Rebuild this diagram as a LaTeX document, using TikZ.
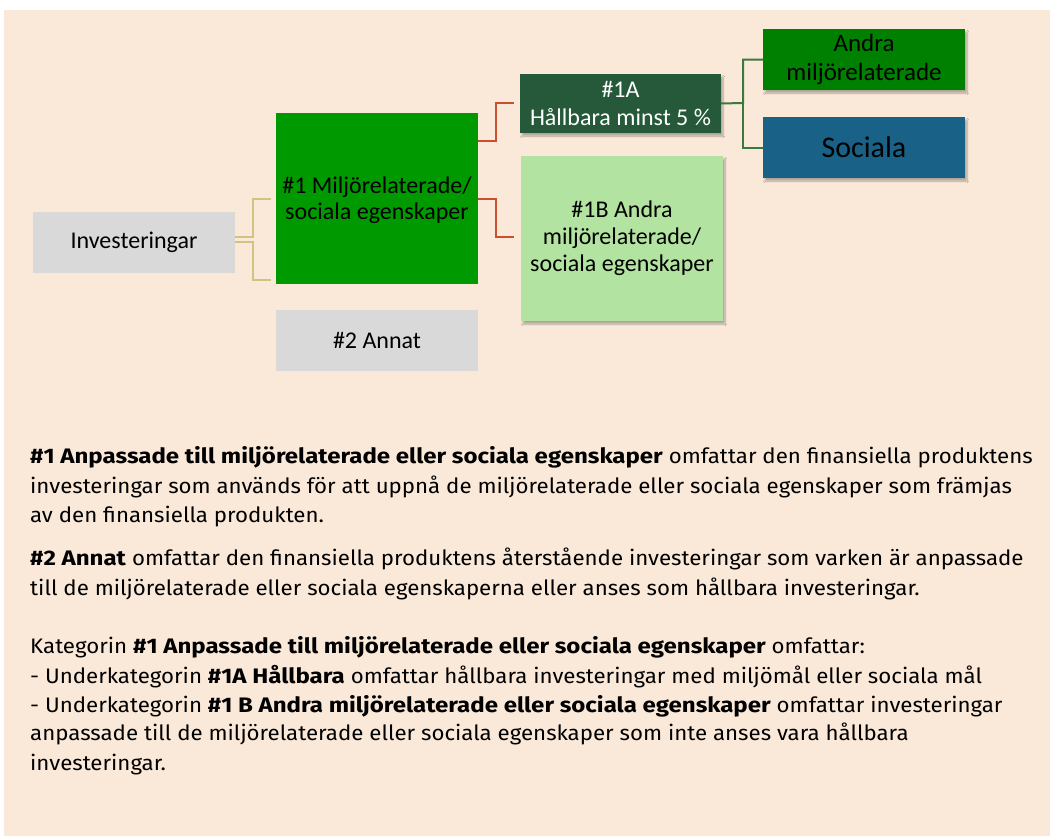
\documentclass[tikz,border=0pt]{standalone}
\usepackage{fontspec}
\setmainfont{Carlito}
\newfontfamily\bodyfont[FakeStretch=1.06, BoldFeatures={FakeStretch=1.145}]{Fira Sans}
\usetikzlibrary{shadows.blur}
\definecolor{bg}{RGB}{250,233,217}
\definecolor{boxgray}{RGB}{217,217,217}
\definecolor{midgreen}{RGB}{0,153,0}
\definecolor{darkgreen}{RGB}{37,89,58}
\definecolor{lightgreen}{RGB}{179,227,160}
\definecolor{puregreen}{RGB}{0,128,0}
\definecolor{socblue}{RGB}{25,97,135}
\definecolor{tanline}{RGB}{210,196,128}
\definecolor{redline}{RGB}{200,80,45}
\definecolor{greenline}{RGB}{60,122,60}
\tikzset{
  box/.style={inner sep=0pt, outer sep=0pt, minimum width=202pt, align=center,
    font=\fontsize{24}{24}\selectfont},
  shbox/.style={box, blur shadow={shadow xshift=2pt, shadow yshift=-3pt, shadow blur steps=8, shadow opacity=30}},
  conn/.style={line width=2pt},
  bodyline/.style={anchor=base west, inner sep=0pt, font=\bodyfont\fontsize{21}{24}\selectfont}
}
\begin{document}
\begin{tikzpicture}[x=1pt,y=-1pt]
\useasboundingbox (0,0) rectangle (1050,836);
\fill[white] (0,0) rectangle (1050,836);
\fill[bg] (4,10) rectangle (1050,836);

% boxes
\node[box, fill=boxgray, minimum height=61pt] (inv) at (134,242.5) {Investeringar};
\node[box, fill=midgreen, minimum height=171pt] (n1) at (377,198.5) {};
\node[box, font=\fontsize{24}{26}\selectfont] (n1txt) at (377,200) {\#1 Miljörelaterade/\\sociala egenskaper};
\node[box, fill=boxgray, minimum height=61pt] (n2) at (377,340.5) {\#2 Annat};
\node[shbox, fill=darkgreen, minimum width=201pt, minimum height=59pt, text=white, font=\fontsize{24}{28}\selectfont] (n1a) at (620.5,103.5) {\#1A\\Hållbara minst 5 \%};
\node[shbox, fill=lightgreen, minimum height=165pt, font=\fontsize{24}{27}\selectfont] (n1b) at (622,238.5) {\#1B Andra\\miljörelaterade/\\sociala egenskaper};
\node[shbox, fill=puregreen, minimum height=61pt, font=\fontsize{25}{29}\selectfont] (andra) at (864,59.5) {Andra\\miljörelaterade};
\node[shbox, fill=socblue, minimum height=61pt, font=\fontsize{30}{30}\selectfont] (soc) at (864,147.5) {Sociala};

% connectors
\draw[conn, tanline] (inv.east |- 0,237) -- (253,237) |- (271,199);
\draw[conn, tanline] (inv.east |- 0,242) -- (253,242) |- (271,280);
\draw[conn, redline] (n1.east |- 0,141) -- (496,141) |- (514,103);
\draw[conn, redline] (n1.east |- 0,199) -- (496,199) |- (514,237);
\draw[conn, greenline] (n1a.east) -- (743,103) |- (andra.west);
\draw[conn, greenline] (743,103) |- (soc.west);

% body text
\node[bodyline] (t1) at (30,463) {\textbf{\#1 Anpassade till miljörelaterade eller sociala egenskaper} omfattar den finansiella produktens};
\node[bodyline] (t2) at (30,493) {investeringar som används för att uppnå de miljörelaterade eller sociala egenskaper som främjas};
\node[bodyline] (t3) at (30,522) {av den finansiella produkten.};
\node[bodyline] (t4) at (30,565) {\textbf{\#2 Annat} omfattar den finansiella produktens återstående investeringar som varken är anpassade};
\node[bodyline] (t5) at (30,595) {till de miljörelaterade eller sociala egenskaperna eller anses som hållbara investeringar.};
\node[bodyline] (t6) at (30,653) {Kategorin \textbf{\#1 Anpassade till miljörelaterade eller sociala egenskaper} omfattar:};
\node[bodyline] (t7) at (30,683) {- Underkategorin \textbf{\#1A Hållbara} omfattar hållbara investeringar med miljömål eller sociala mål};
\node[bodyline] (t8) at (30,712) {- Underkategorin \textbf{\#1 B Andra miljörelaterade eller sociala egenskaper} omfattar investeringar};
\node[bodyline] (t9) at (30,740) {anpassade till de miljörelaterade eller sociala egenskaper som inte anses vara hållbara};
\node[bodyline] (t10) at (30,770) {investeringar.};
\end{tikzpicture}
\end{document}
